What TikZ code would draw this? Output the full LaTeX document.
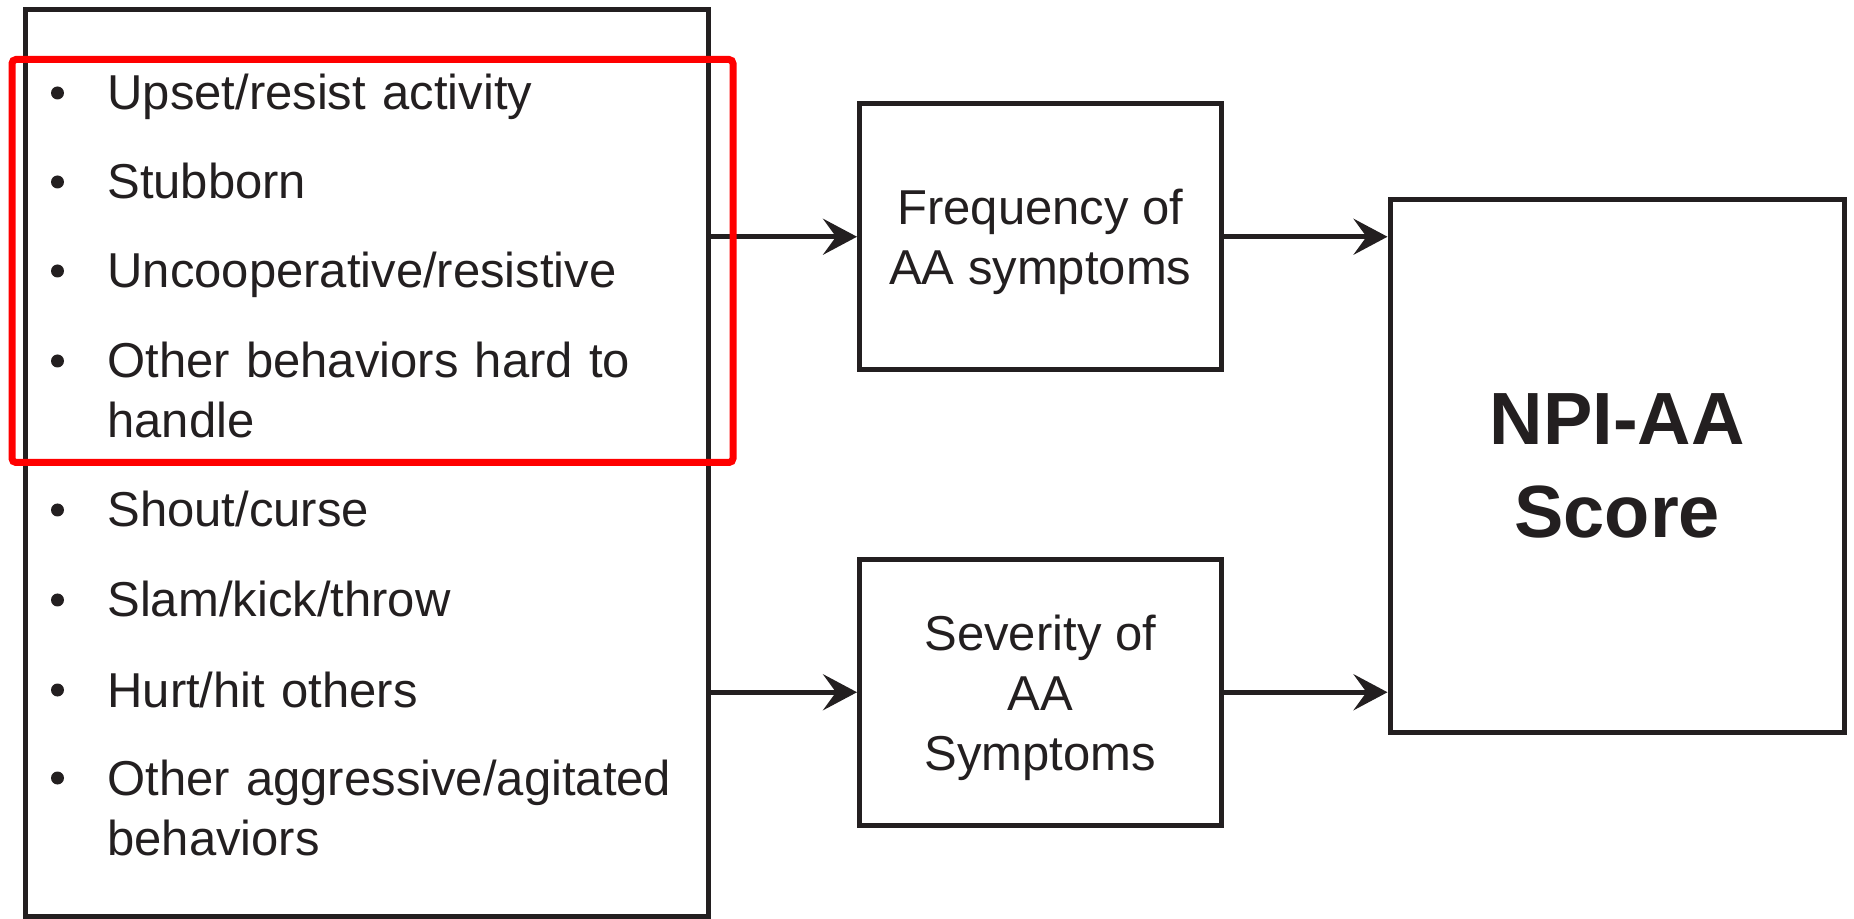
\documentclass[tikz,border=0pt]{standalone}
\usepackage{fontspec}
\setmainfont{Liberation Sans}
\usetikzlibrary{arrows.meta}
\definecolor{ink}{RGB}{35,31,32}

\begin{document}
\begin{tikzpicture}[x=0.5pt,y=-0.5pt,
    every node/.style={text=ink},
    box/.style={draw=ink,line width=2.5pt,inner sep=0,align=center,text depth=0pt,
      font=\fontsize{24.5}{30}\selectfont},
    dot/.style={fill=ink,circle,minimum size=6.5pt,inner sep=0},
    entry/.style={anchor=base west,inner sep=0,text width=300pt,align=left,
      font=\fontsize{24.5}{30}\selectfont},
    flow/.style={draw=ink,line width=2.25pt,-{Stealth[length=17pt,width=18pt,inset=6.5pt]}},
    focus/.style={draw=red,line width=3.5pt,rounded corners=2pt}]
  \useasboundingbox (0,0) rectangle (1854,919);
  % list of behaviours
  \node[box,minimum width=341.25pt,minimum height=453.25pt] (list) at (366.75,463.25) {};
  \node[dot] (b1) at (57.5,93) {};
  \node[entry] (upset) at (107,110) {Upset/resist activity};
  \node[dot] (b2) at (57.5,182) {};
  \node[entry] (stubborn) at (107,199) {Stubborn};
  \node[dot] (b3) at (57.5,271) {};
  \node[entry] (uncoop) at (107,288) {Uncooperative/resistive};
  \node[dot] (b4) at (57.5,361) {};
  \node[entry] (hard) at (107,378) {Other behaviors hard to\\handle};
  \node[dot] (b5) at (57.5,510) {};
  \node[entry] (shout) at (107,527) {Shout/curse};
  \node[dot] (b6) at (57.5,600) {};
  \node[entry] (slam) at (107,617) {Slam/kick/throw};
  \node[dot] (b7) at (57.5,690) {};
  \node[entry] (hurt) at (107,707) {Hurt/hit others};
  \node[dot] (b8) at (57.5,778) {};
  \node[entry] (aggr) at (107,795) {Other aggressive/agitated\\behaviors};
  % symptom boxes and score
  \node[box,minimum width=180.75pt,minimum height=132.75pt] (freq) at (1040.25,236.75) {Frequency of\\AA symptoms};
  \node[box,minimum width=180.75pt,minimum height=132.75pt] (sev) at (1040.25,692.25) {Severity of\\AA\\Symptoms};
  \node[box,minimum width=227.25pt,minimum height=266.25pt,font=\fontsize{37}{46.5}\selectfont\bfseries] (npi) at (1617.25,465.75) {NPI-AA\\Score};
  \draw[flow] (list.east |- freq) -- (freq);
  \draw[flow] (list.east |- sev) -- (sev);
  \draw[flow] (freq) -- (npi.west |- freq);
  \draw[flow] (sev) -- (npi.west |- sev);
  \draw[focus] (12,59.5) rectangle (733,462.5);
\end{tikzpicture}
\end{document}
